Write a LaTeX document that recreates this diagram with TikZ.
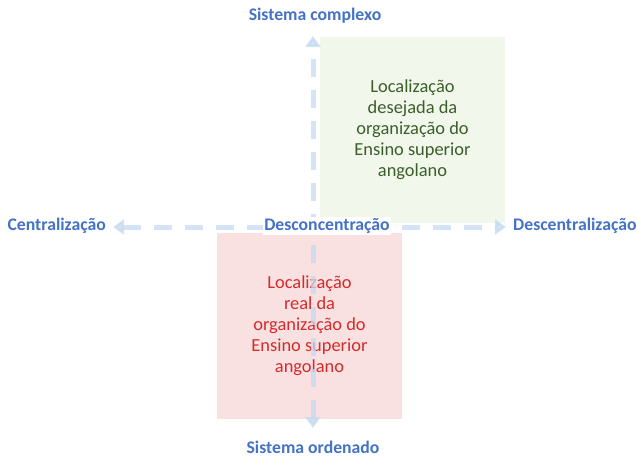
\documentclass[tikz,border=0pt]{standalone}
\usepackage{fontspec}
\setmainfont{Carlito}
\usetikzlibrary{arrows.meta}
\definecolor{lblblue}{HTML}{4472C4}
\definecolor{arrblue}{HTML}{C5D9F1}
\definecolor{greenfill}{HTML}{F1F7EB}
\definecolor{redfill}{HTML}{F9E1E2}
\definecolor{greentext}{HTML}{3B5E2B}
\definecolor{redtext}{HTML}{D62A2A}
\tikzset{
  axislabel/.style={font=\fontsize{17.7}{20}\selectfont\bfseries, text=lblblue, inner sep=1pt},
  quad/.style={minimum width=185pt, minimum height=186pt, inner sep=0pt, align=center, font=\fontsize{18.4}{21}\selectfont},
  axis/.style={draw=arrblue, line width=5pt, dash pattern=on 18pt off 13pt, {Triangle[width=15pt,length=11pt]}-{Triangle[width=15pt,length=11pt]}}
}
\begin{document}
\begin{tikzpicture}[x=1pt,y=-1pt]
\useasboundingbox (0,0) rectangle (637,458);
\node[quad, fill=greenfill, text=greentext] (g) at (412.5,130) {Localização\\desejada da\\organização do\\Ensino superior\\angolano};
\node[quad, fill=redfill, text=redtext] (r) at (309.5,325.5) {Localização\\real da\\organização do\\Ensino superior\\angolano};
\coordinate (top) at (313,36);
\coordinate (bot) at (313,428);
\coordinate (lft) at (113,227);
\coordinate (rgt) at (506,227);
\begin{scope}[opacity=0.75]
\draw[axis] (bot) -- (top);
\draw[axis] (lft) -- (rgt);
\end{scope}
\node[axislabel, fill=white] (c) at (327,226) {Desconcentração};
\node[axislabel] (sc) at (315,16) {Sistema complexo};
\node[axislabel] (so) at (313,447) {Sistema ordenado};
\node[axislabel, anchor=east] (ce) at (107,226) {Centralização};
\node[axislabel, anchor=west] (de) at (512,226) {Descentralização};
\end{tikzpicture}
\end{document}
